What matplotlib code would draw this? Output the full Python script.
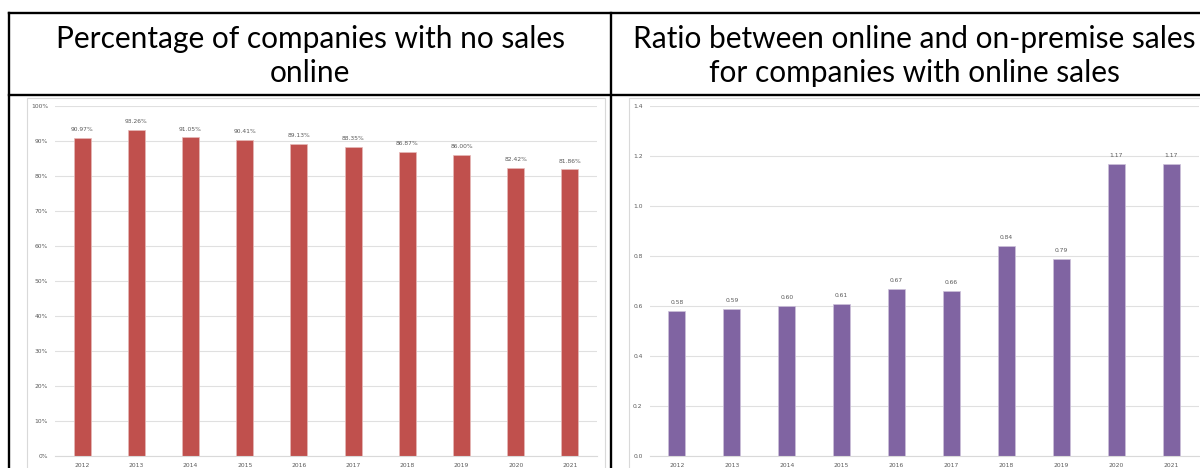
import matplotlib.pyplot as plt
from matplotlib.lines import Line2D
from matplotlib.patches import Rectangle
from matplotlib.ticker import FuncFormatter

years = ['2012', '2013', '2014', '2015', '2016', '2017', '2018', '2019', '2020', '2021']
no_online_pct = [90.97, 93.26, 91.05, 90.41, 89.13, 88.35, 86.87, 86.00, 82.42, 81.86]
online_ratio = [0.58, 0.59, 0.60, 0.61, 0.67, 0.66, 0.84, 0.79, 1.17, 1.17]

left_title = 'Percentage of companies with no sales\nonline'
right_title = 'Ratio between online and on-premise sales\nfor companies with online sales'

W, H = 1200, 468
fig = plt.figure(figsize=(W / 100, H / 100), dpi=100)
fig.patch.set_facecolor('white')


def fx(px):
    return px / W


def fy(py):
    # py measured from the top of the picture
    return 1 - py / H


# table borders
lw = 1.7
for (x0, y0, x1, y1) in [(9, 13, W, 13), (9, 95, W, 95), (9, 13, 9, H), (611, 13, 611, H)]:
    fig.add_artist(Line2D([fx(x0), fx(x1)], [fy(y0), fy(y1)], color='black', lw=lw,
                          transform=fig.transFigure, solid_capstyle='projecting'))

# header texts
hdr = dict(ha='center', va='center', fontsize=21.5, family=['Lato', 'DejaVu Sans'],
           color='black', linespacing=1.22, transform=fig.transFigure)
fig.text(fx(310), fy(56), left_title, **hdr)
fig.text(fx(914), fy(56), right_title, **hdr)

# light frames of the embedded chart pictures
fig.add_artist(Rectangle((fx(27), fy(H + 5)), fx(605 - 27), fy(98) - fy(H + 5),
                         transform=fig.transFigure, fill=False, ec='#D9D9D9', lw=0.8))
fig.add_artist(Rectangle((fx(629), fy(H + 5)), fx(W + 5 - 629), fy(98) - fy(H + 5),
                         transform=fig.transFigure, fill=False, ec='#D9D9D9', lw=0.8))


def style_axes(ax):
    for s in ax.spines.values():
        s.set_visible(False)
    ax.spines['bottom'].set_visible(True)
    ax.spines['bottom'].set_color('#D9D9D9')
    ax.spines['bottom'].set_linewidth(0.8)
    ax.grid(axis='y', color='#E0E0E0', lw=0.8)
    ax.set_axisbelow(True)
    ax.tick_params(length=0, labelsize=4.3, labelcolor='#595959', pad=5)
    ax.set_xlim(-0.5, len(years) - 0.5)


# left chart
ax1 = fig.add_axes([fx(55), fy(456), fx(597 - 55), fy(106) - fy(456)])
x = range(len(years))
ax1.bar(x, no_online_pct, width=0.31, color='#C0504D', edgecolor='#E6B9B8', lw=0.5)
ax1.set_ylim(0, 100)
ax1.set_yticks(range(0, 101, 10))
ax1.yaxis.set_major_formatter(FuncFormatter(lambda v, p: f'{v:.0f}%'))
ax1.set_xticks(list(x))
ax1.set_xticklabels(years)
style_axes(ax1)
for i, v in enumerate(no_online_pct):
    ax1.annotate(f'{v:.2f}%', (i, v), xytext=(0, 4), textcoords='offset points',
                 ha='center', va='bottom', fontsize=4.3, color='#595959')

# right chart
ax2 = fig.add_axes([fx(649.5), fy(456), fx(549), fy(106) - fy(456)])
ax2.bar(x, online_ratio, width=0.31, color='#8064A2', edgecolor='#CCC1DA', lw=0.5)
ax2.set_ylim(0, 1.4)
ax2.set_yticks([0, 0.2, 0.4, 0.6, 0.8, 1.0, 1.2, 1.4])
ax2.yaxis.set_major_formatter(FuncFormatter(lambda v, p: f'{v:.1f}'))
ax2.set_xticks(list(x))
ax2.set_xticklabels(years)
style_axes(ax2)
for i, v in enumerate(online_ratio):
    ax2.annotate(f'{v:.2f}', (i, v), xytext=(0, 4), textcoords='offset points',
                 ha='center', va='bottom', fontsize=4.3, color='#595959')

fig.savefig('out.png', dpi=100)
